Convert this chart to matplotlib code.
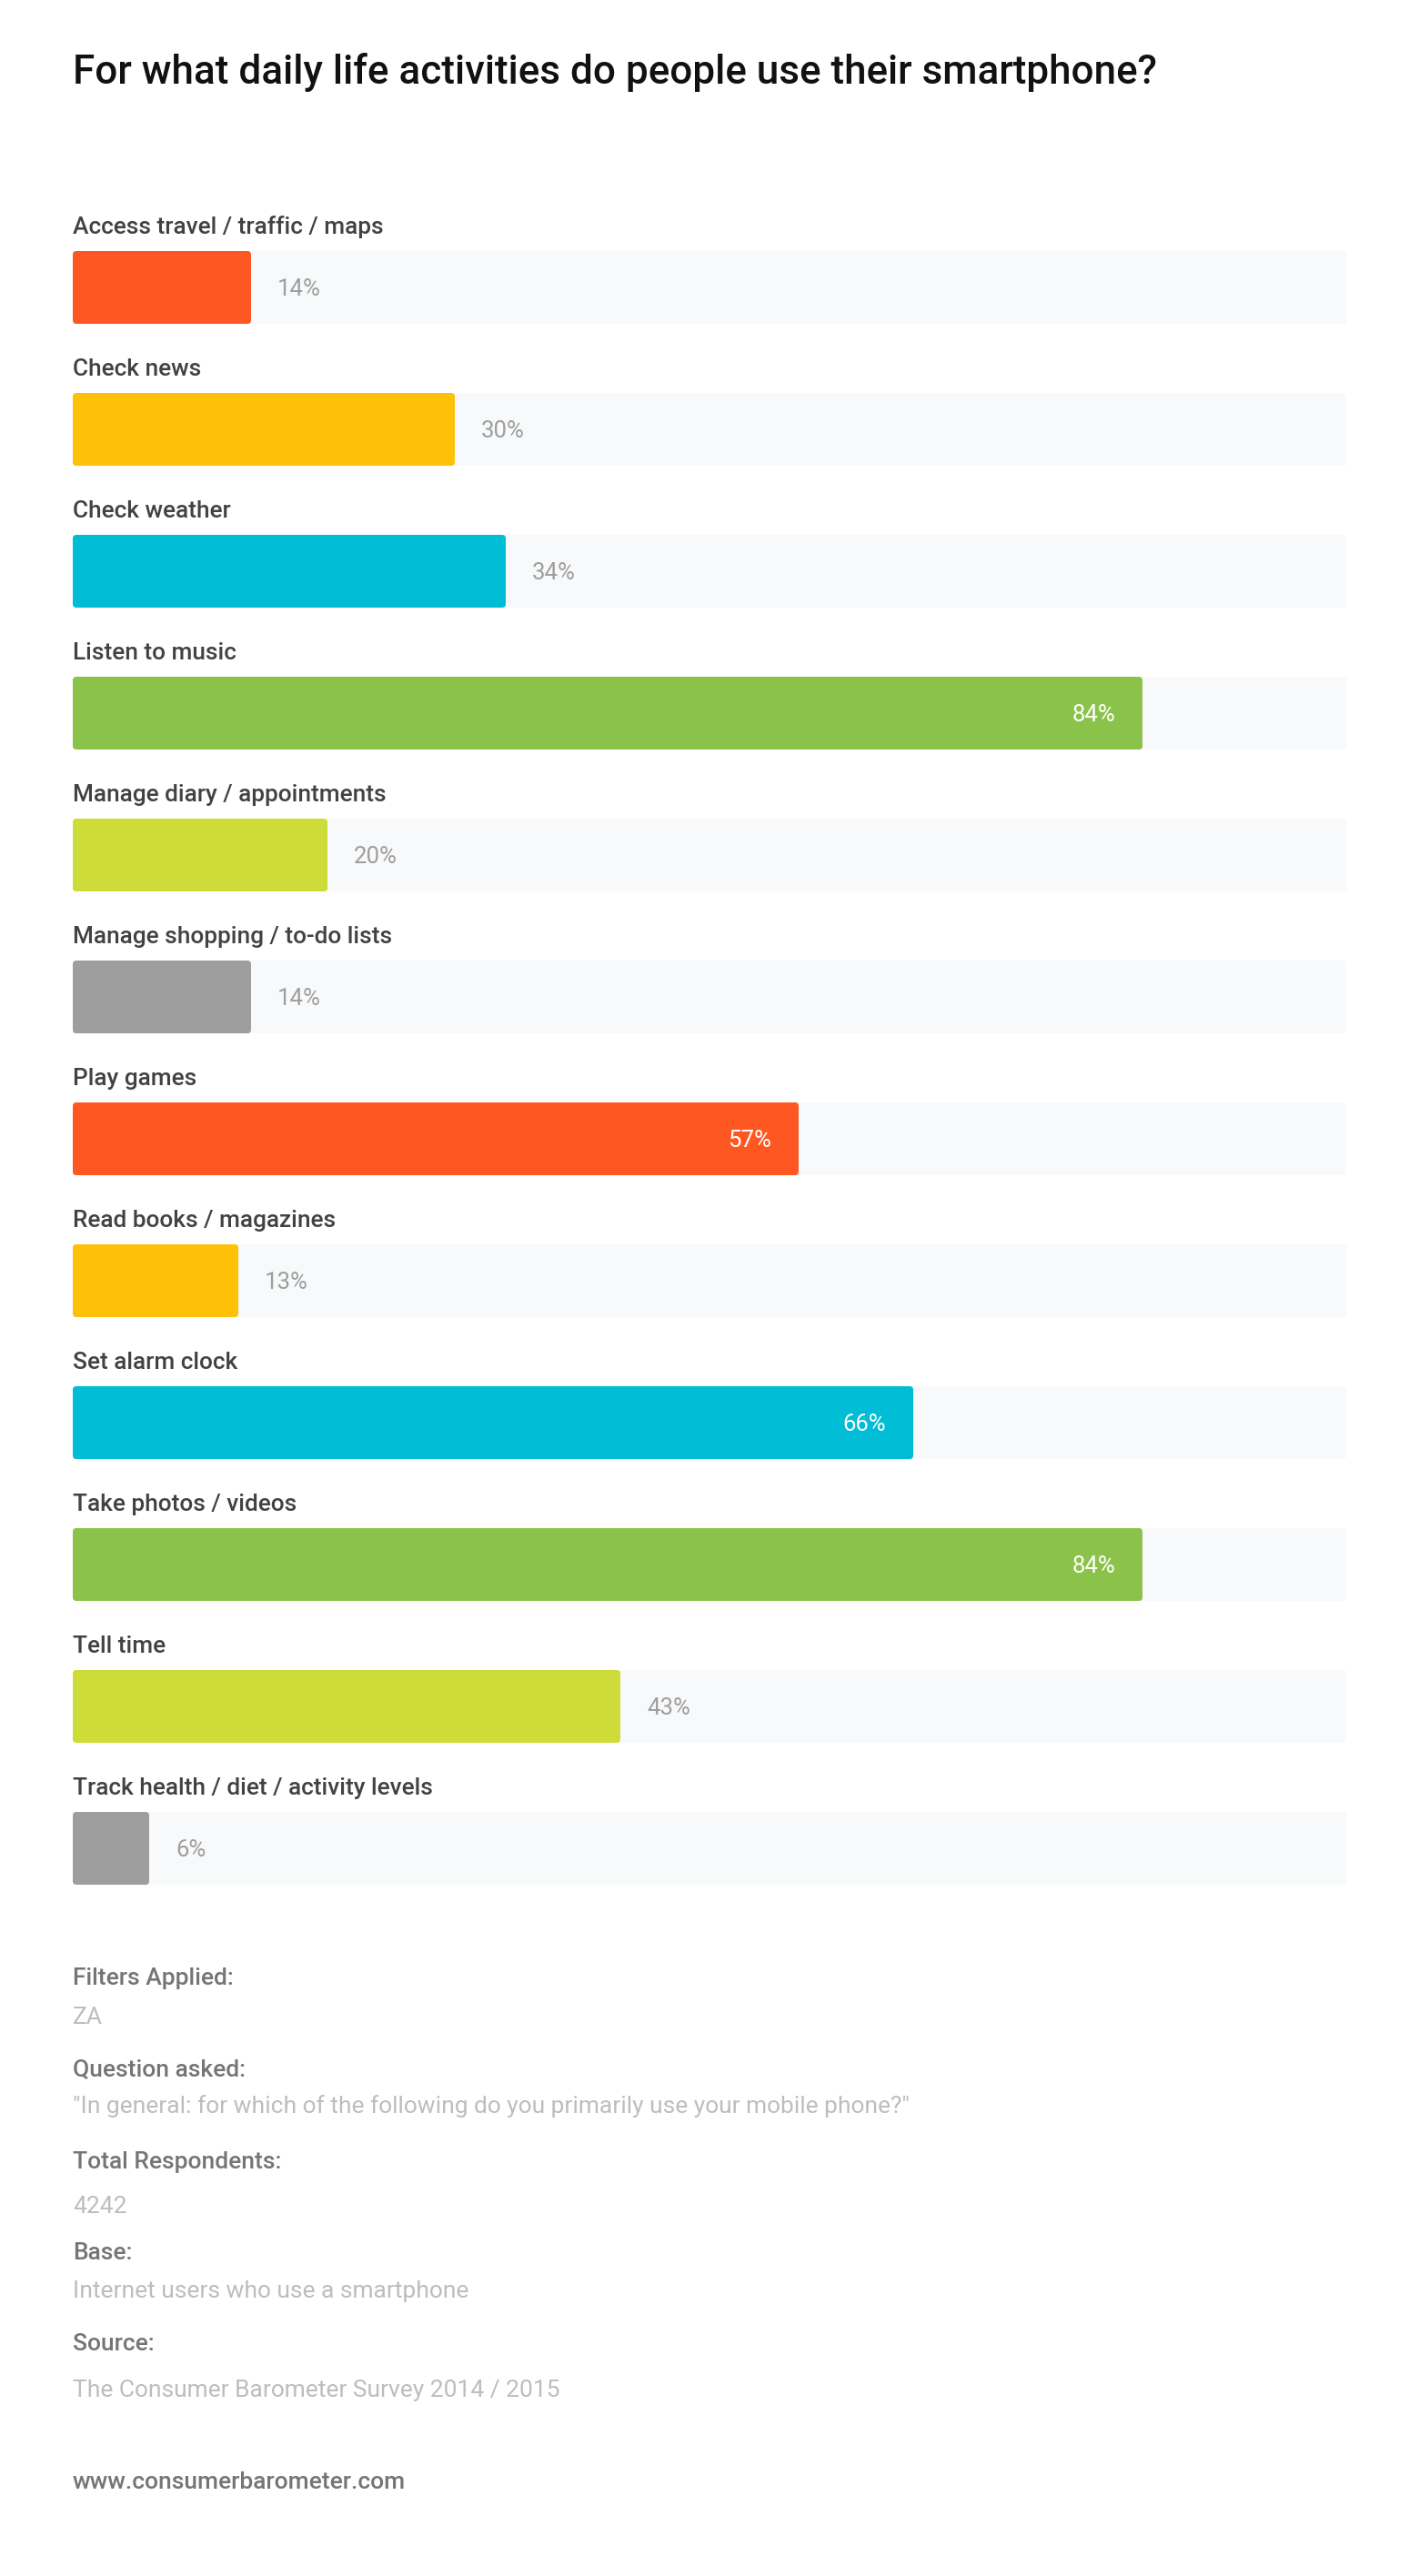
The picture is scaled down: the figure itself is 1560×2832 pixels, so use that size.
import matplotlib
matplotlib.use("Agg")
import matplotlib.pyplot as plt
from matplotlib.patches import FancyBboxPatch

plt.rcParams["font.family"] = ["Roboto", "DejaVu Sans"]

# --- data ---
categories = [
    "Access travel / traffic / maps",
    "Check news",
    "Check weather",
    "Listen to music",
    "Manage diary / appointments",
    "Manage shopping / to-do lists",
    "Play games",
    "Read books / magazines",
    "Set alarm clock",
    "Take photos / videos",
    "Tell time",
    "Track health / diet / activity levels",
]
values = [14, 30, 34, 84, 20, 14, 57, 13, 66, 84, 43, 6]

footer_heads = ["Filters Applied:", "Question asked:", "Total Respondents:", "Base:", "Source:"]
footer_vals = ["ZA",
               "\"In general: for which of the following do you primarily use your mobile phone?\"",
               "4242",
               "Internet users who use a smartphone",
               "The Consumer Barometer Survey 2014 / 2015"]
site = "www.consumerbarometer.com"

# --- palette ---
palette = ["#FF5722", "#FFC107", "#00BCD4", "#8BC34A", "#CDDC39", "#9E9E9E"]
TRACK = "#F8F9FA"
LABEL = "#424242"
VAL_OUT = "#9E9E9E"
HEAD = "#757575"
SUB = "#BDBDBD"

W, H = 1560, 2832
fig = plt.figure(figsize=(W / 100, H / 100), dpi=100)
fig.patch.set_facecolor("white")


def fx(x):
    return x / W


def fy(y):
    return 1 - y / H


# bar area: first bar top 276px, pitch 156px, bar height 80px
pitch, bh = 156, 80
top, left, width = 276, 80, 1400
n = len(values)
half = bh / pitch / 2
area_h = (n - 1) * pitch + bh
ax = fig.add_axes([fx(left), fy(top + area_h), width / W, area_h / H])
ax.set_xlim(0, 100)
ax.set_ylim(n - 1 + half, -half)
ax.axis("off")

# rounding ~4px, in data units
rx = 4 / (width / 100)
asp = (4 / pitch) / rx

for i, (cat, v) in enumerate(zip(categories, values)):
    col = palette[i % len(palette)]
    track = FancyBboxPatch((0, i - half), 100, 2 * half,
                           boxstyle=f"round,pad=0,rounding_size={rx}",
                           mutation_aspect=asp, fc=TRACK, ec="none", zorder=1)
    ax.add_patch(track)
    bar = FancyBboxPatch((0, i - half), v, 2 * half,
                         boxstyle=f"round,pad=0,rounding_size={rx}",
                         mutation_aspect=asp, fc=col, ec="none", zorder=2)
    ax.add_patch(bar)

    # category label 19px above bar
    ax.text(0, i - half - 19 / pitch, cat, ha="left", va="baseline",
            fontsize=18.9, fontweight="medium", color=LABEL, clip_on=False)

    # value label
    yb = i + 9 / pitch
    if v >= 50:
        ax.text(v - 30 / (width / 100), yb, f"{v}%", ha="right", va="baseline",
                fontsize=18.5, color="white", zorder=3)
    else:
        ax.text(v + 29 / (width / 100), yb, f"{v}%", ha="left", va="baseline",
                fontsize=18.5, color=VAL_OUT, zorder=3)

# title
fig.text(fx(80), fy(92), "For what daily life activities do people use their smartphone?",
         ha="left", va="baseline", fontsize=31.7, fontweight="medium", color="#111111")

# footer
head_y = [2182, 2282, 2384, 2484, 2584]
val_y = [2225, 2323, 2433, 2526, 2635]
for hd, hy, vl, vy in zip(footer_heads, head_y, footer_vals, val_y):
    fig.text(fx(80), fy(hy), hd, ha="left", va="baseline",
             fontsize=19, fontweight="medium", color=HEAD)
    fig.text(fx(80), fy(vy), vl, ha="left", va="baseline",
             fontsize=19, color=SUB)

fig.text(fx(80), fy(2736), site, ha="left", va="baseline",
         fontsize=19, fontweight="medium", color=HEAD)

fig.savefig("out.png", dpi=100, facecolor="white")
